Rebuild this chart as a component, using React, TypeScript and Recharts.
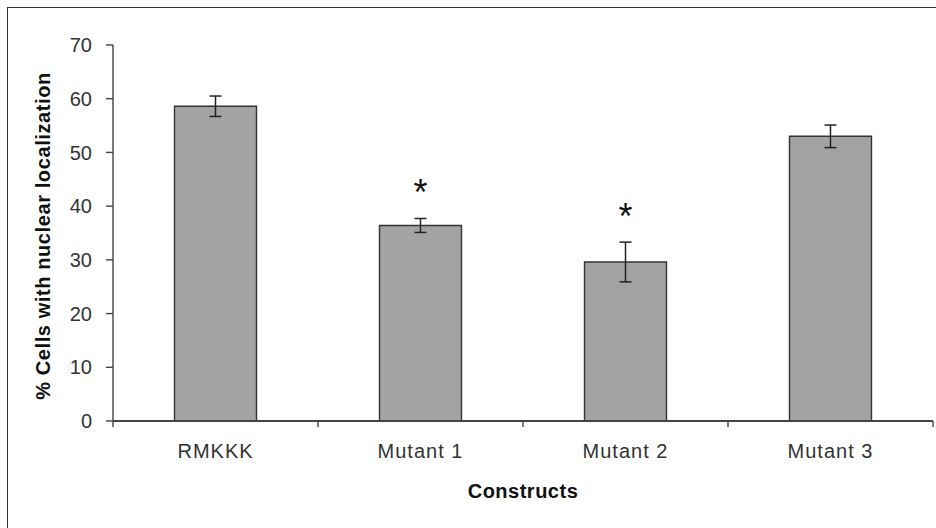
import React from 'react'
import { BarChart, Bar, XAxis, YAxis, ErrorBar, LabelList } from 'recharts'

const constructs = ['RMKKK', 'Mutant 1', 'Mutant 2', 'Mutant 3']
const nuclearPct = [58.6, 36.4, 29.6, 53.0]
const nuclearErr = [1.9, 1.3, 3.7, 2.1]
const significant = [false, true, true, false]
const yTicks = [0, 10, 20, 30, 40, 50, 60, 70]

const data = constructs.map((name, i) => ({
  name,
  value: nuclearPct[i],
  err: nuclearErr[i],
}))

const FONT = 'Arial, "Liberation Sans", sans-serif'

// star sits a fixed distance above the top of the error bar
const Asterisk = (props: any) => {
  const { x, y, width, height, index } = props
  if (!significant[index]) return null
  const pxPerUnit = height / nuclearPct[index]
  const errTop = y - nuclearErr[index] * pxPerUnit
  return (
    <text x={x + width / 2} y={errTop - 13} textAnchor="middle" fontSize={36} fontFamily={FONT} fill="#111">
      *
    </text>
  )
}

// category label plus the tick marks at the band edges (Excel style)
const CategoryTick = (props: any) => {
  const { x, y, payload, index, visibleTicksCount } = props
  const half = payload.offset || 0
  const axisY = y - 23
  return (
    <g>
      <line x1={x - half} y1={axisY} x2={x - half} y2={axisY + 6} stroke="#444" strokeWidth={1.4} />
      {index === visibleTicksCount - 1 && (
        <line x1={x + half} y1={axisY} x2={x + half} y2={axisY + 6} stroke="#444" strokeWidth={1.4} />
      )}
      <text x={x} y={y} dy="0.71em" textAnchor="middle" fontSize={20} fill="#333" fontFamily={FONT} letterSpacing={1}>
        {payload.value}
      </text>
    </g>
  )
}

const YLabel = (props: any) => {
  const { viewBox } = props
  const cx = viewBox.x + 35
  const cy = viewBox.y + viewBox.height / 2 + 3
  return (
    <text
      x={cx}
      y={cy}
      transform={`rotate(-90, ${cx}, ${cy})`}
      textAnchor="middle"
      dominantBaseline="central"
      fontSize={20}
      fontWeight="bold"
      letterSpacing={0.6}
      fontFamily={FONT}
      fill="#111"
    >
      % Cells with nuclear localization
    </text>
  )
}

const XLabel = (props: any) => {
  const { viewBox } = props
  return (
    <text
      x={viewBox.x + viewBox.width / 2}
      y={viewBox.y + 77}
      textAnchor="middle"
      fontSize={20}
      fontWeight="bold"
      letterSpacing={0.5}
      fontFamily={FONT}
      fill="#111"
    >
      Constructs
    </text>
  )
}

export default function App() {
  return (
    <div>
      <style>{`body{margin:0;overflow:hidden;background:#fff}`}</style>
      <div
        style={{
          position: 'absolute',
          left: 7,
          top: 7,
          borderTop: '1px solid #333',
          borderLeft: '1px solid #333',
          width: 928,
          height: 520,
        }}
      >
        <BarChart
          width={928}
          height={520}
          data={data}
          margin={{ top: 37, right: 3, left: 0, bottom: 0 }}
          barCategoryGap="30%"
        >
          <XAxis
            dataKey="name"
            axisLine={{ stroke: '#444', strokeWidth: 1.8 }}
            tickLine={false}
            tickSize={0}
            tickMargin={23}
            height={107}
            interval={0}
            tick={<CategoryTick />}
            label={{ content: XLabel }}
          />
          <YAxis
            domain={[0, 70]}
            ticks={yTicks}
            width={105}
            tickSize={7}
            tickMargin={14}
            stroke="#444"
            strokeWidth={1.4}
            tick={{ fontSize: 20, fill: '#333', fontFamily: FONT }}
            label={{ content: YLabel }}
          />
          <Bar dataKey="value" fill="#a3a3a3" stroke="#333" strokeWidth={1.4} isAnimationActive={false}>
            <ErrorBar dataKey="err" width={6} stroke="#222" strokeWidth={1.5} />
            <LabelList dataKey="value" content={Asterisk} />
          </Bar>
        </BarChart>
      </div>
    </div>
  )
}
